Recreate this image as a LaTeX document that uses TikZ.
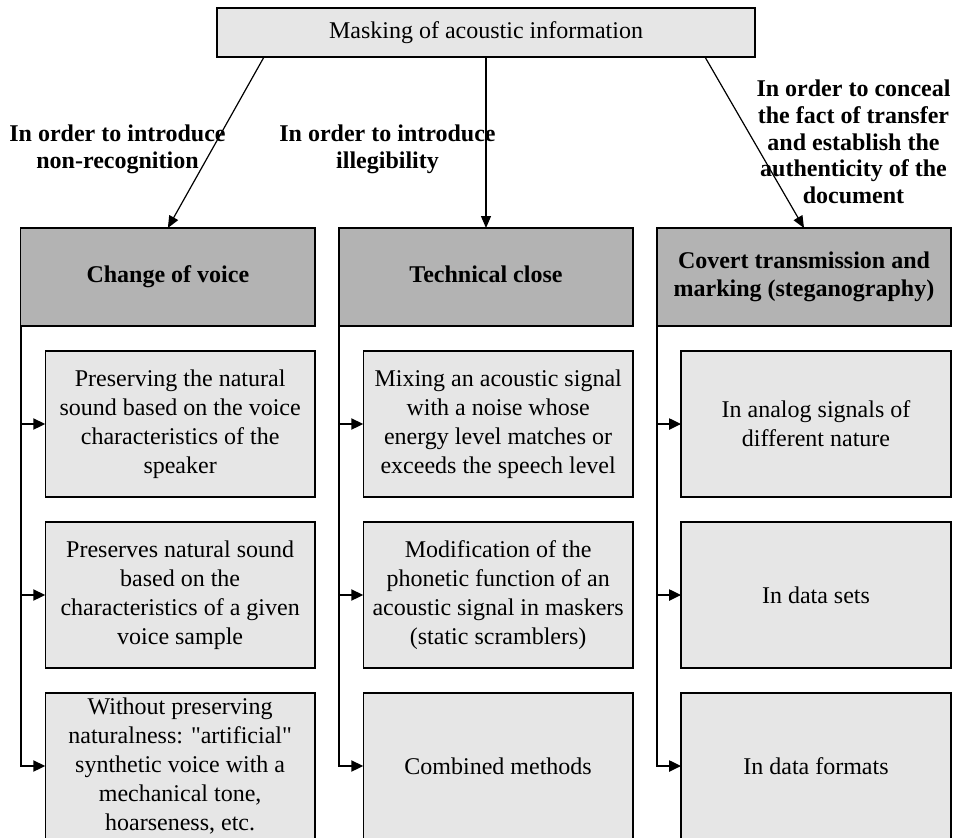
\documentclass[tikz,border=0pt]{standalone}
\usepackage{fontspec}
\setmainfont{Liberation Serif}[Ligatures=TeXOff]
\usetikzlibrary{arrows.meta}
\definecolor{hdrgray}{HTML}{B3B3B3}
\definecolor{boxgray}{HTML}{E6E6E6}
\begin{document}
\begin{tikzpicture}[x=0.5pt,y=-0.5pt,
  every node/.style={inner sep=0pt,outer sep=0pt},
  topbox/.style={draw=black,line width=0.75pt,fill=boxgray,minimum width=269pt,minimum height=24.5pt,font=\fontsize{12}{14.45}\selectfont},
  hdrbox/.style={draw=black,line width=0.75pt,fill=hdrgray,minimum width=147.15pt,minimum height=49pt,align=center,font=\fontsize{12}{14.15}\selectfont\bfseries},
  subbox/.style={draw=black,line width=0.75pt,fill=boxgray,minimum width=134.85pt,minimum height=73pt,align=center,font=\fontsize{12}{14.45}\selectfont},
  lbl/.style={align=center,font=\fontsize{12}{13.35}\selectfont\bfseries},
  toparrow/.style={draw=black,line width=0.6pt,-{Triangle[length=6pt,width=5pt]}},
  conn/.style={draw=black,line width=1pt,line join=miter,-{Triangle[length=6pt,width=5.5pt]}}]
\useasboundingbox (0,0) rectangle (954,837);

\node[topbox] (top) at (486,32.5) {Masking of acoustic information};

\node[hdrbox] (h1) at (167.85,277) {\strut Change of voice};
\node[hdrbox] (h2) at (486,277) {\strut Technical close};
\node[hdrbox] (h3) at (804,277) {Covert transmission and\\marking (steganography)};

\node[subbox] (s11) at (180.15,424) {Preserving the natural\\sound based on the voice\\characteristics of the\\speaker};
\node[subbox] (s12) at (180.15,595) {Preserves natural sound\\based on the\\characteristics of a given\\voice sample};
\node[subbox] (s13) at (180.15,766) {Without preserving\\naturalness: "artificial"\\synthetic voice with a\\mechanical tone,\\hoarseness, etc.};

\node[subbox] (s21) at (498.15,424) {Mixing an acoustic signal\\with a noise whose\\energy level matches or\\exceeds the speech level};
\node[subbox] (s22) at (498.15,595) {Modification of the\\phonetic function of an\\acoustic signal in maskers\\(static scramblers)};
\node[subbox] (s23) at (498.15,766) {Combined methods};

\node[subbox] (s31) at (816,424) {In analog signals of\\different nature};
\node[subbox] (s32) at (816,595) {In data sets};
\node[subbox] (s33) at (816,766) {In data formats};

\node[lbl] (l1) at (117.5,149) {In order to introduce\\non-recognition};
\node[lbl] (l2) at (387.5,149) {In order to introduce\\illegibility};
\node[lbl] (l3) at (853.5,142) {In order to conceal\\the fact of transfer\\and establish the\\authenticity of the\\document};

\draw[toparrow] ([xshift=-111pt]top.south) -- (h1.north);
\draw[toparrow] (top.south) -- (h2.north);
\draw[toparrow] ([xshift=109.5pt]top.south) -- (h3.north);

\foreach \c in {1,2,3}{
  \draw[conn] (h\c.south west) |- (s\c3.west);
  \draw[conn] (h\c.south west |- s\c1.west) -- (s\c1.west);
  \draw[conn] (h\c.south west |- s\c2.west) -- (s\c2.west);
}
\end{tikzpicture}
\end{document}
